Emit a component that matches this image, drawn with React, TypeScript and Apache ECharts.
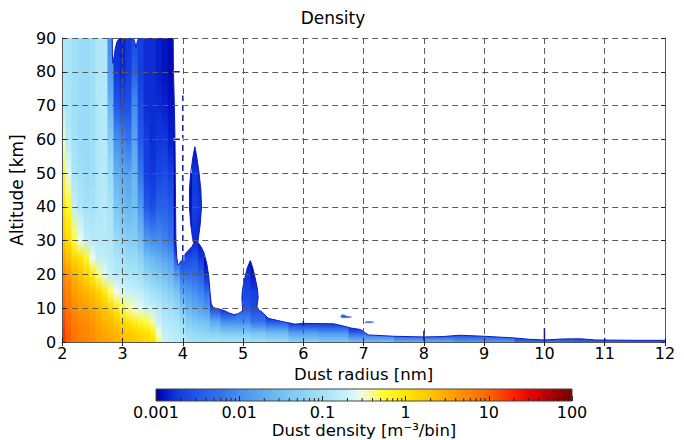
import React, { useEffect, useRef } from 'react';
import * as echarts from 'echarts';

// ---------- data ----------
// Radius nodes (nm) at which the density profiles are read
const radiusNodes = [
  2.0, 2.1, 2.2, 2.3, 2.4, 2.5, 2.6, 2.7, 2.8, 2.9, 3.0, 3.1, 3.2, 3.3, 3.4, 3.5, 3.6, 3.7, 3.8, 3.9,
  4.0, 4.1, 4.2, 4.3, 4.4, 4.5, 4.75, 5.0, 5.25, 5.5, 6.0, 6.5, 7.0, 8.0, 9.0, 10.0, 11.0, 12.0,
];
// Altitude nodes (km)
const altitudeNodes = [0, 3, 6, 10, 15, 20, 25, 30, 40, 50, 60, 70, 80, 90];
// log10 of dust density [m^-3/bin] per radius node, from the ground upwards
const logDensity = [
  [1.25, 1.22, 1.15, 1.05, 0.92, 0.75, 0.52, 0.3, 0.0, -0.2, -0.5, -0.85, -0.9, -0.9],
  [1.05, 1.02, 0.97, 0.88, 0.77, 0.6, 0.35, 0.1, -0.2, -0.6, -0.85, -0.95, -0.95, -0.95],
  [0.88, 0.86, 0.82, 0.72, 0.58, 0.42, 0.15, -0.3, -0.75, -0.95, -1.0, -1.05, -1.05, -1.05],
  [0.8, 0.8, 0.75, 0.62, 0.48, 0.3, 0.05, -0.55, -0.9, -1.05, -1.1, -1.1, -1.1, -1.1],
  [0.75, 0.75, 0.7, 0.58, 0.4, 0.15, -0.2, -0.75, -1.0, -1.1, -1.1, -1.1, -1.1, -1.1],
  [0.7, 0.68, 0.62, 0.5, 0.3, -0.05, -0.55, -0.85, -1.0, -1.05, -1.05, -1.05, -1.05, -1.05],
  [0.6, 0.58, 0.52, 0.4, 0.15, -0.35, -0.75, -0.85, -0.9, -0.9, -0.9, -0.9, -0.9, -0.9],
  [0.55, 0.5, 0.42, 0.28, -0.05, -0.6, -0.8, -0.85, -0.85, -0.85, -0.85, -0.85, -0.9, -0.9],
  [0.5, 0.45, 0.35, 0.15, -0.35, -0.75, -0.85, -0.9, -0.95, -1.1, -1.3, -1.6, -1.9, -2.0],
  [0.45, 0.38, 0.25, -0.05, -0.55, -0.85, -0.95, -1.1, -1.4, -1.65, -2.0, -2.5, -2.75, -2.8],
  [0.4, 0.3, 0.12, -0.25, -0.65, -0.9, -1.0, -1.2, -1.5, -1.75, -2.1, -2.6, -2.8, -2.85],
  [0.32, 0.22, 0.02, -0.4, -0.7, -0.95, -1.1, -1.3, -1.6, -1.8, -2.2, -2.55, -2.7, -2.75],
  [0.27, 0.15, -0.1, -0.5, -0.75, -0.95, -1.1, -1.3, -1.5, -1.6, -1.8, -2.0, -2.4, -2.6],
  [0.22, 0.08, -0.2, -0.6, -0.8, -1.05, -1.25, -1.5, -1.9, -2.2, -2.5, -2.6, -2.7, -2.7],
  [0.17, 0.02, -0.3, -0.7, -0.9, -1.2, -1.5, -1.9, -2.5, -2.7, -2.7, -2.8, -2.8, -2.8],
  [0.08, -0.12, -0.42, -0.75, -1.0, -1.3, -1.6, -2.0, -2.6, -2.75, -2.8, -2.8, -2.8, -2.8],
  [-0.35, -0.5, -0.7, -0.85, -1.1, -1.4, -1.7, -2.0, -2.4, -2.65, -2.75, -2.8, -2.85, -2.85],
  [-0.7, -0.75, -0.85, -1.0, -1.2, -1.5, -1.8, -2.1, -2.4, -2.6, -2.75, -2.85, -2.9, -2.9],
  [-0.75, -0.8, -0.9, -1.05, -1.3, -1.6, -1.9, -2.2, -2.5, -2.7, -2.85, -2.9, -2.95, -2.95],
  [-0.8, -0.85, -0.95, -1.15, -1.45, -1.85, -2.5, -2.9, -3, -3, -3, -3, -3, -3],
  [-0.85, -0.95, -1.1, -1.4, -1.8, -2.2, -2.7, -3, -3],
  [-0.95, -1.1, -1.3, -1.6, -1.9, -2.25, -2.6, -2.9, -2.9, -3],
  [-1.0, -1.15, -1.4, -1.7, -2.0, -2.3, -2.55, -2.8, -2.7, -2.75, -3],
  [-1.0, -1.2, -1.45, -1.8, -2.1, -2.4, -2.75, -2.9, -2.75, -2.85, -3],
  [-1.0, -1.25, -1.5, -1.9, -2.3, -2.8, -3],
  [-0.95, -1.3, -1.7, -2.6, -3],
  [-0.95, -1.4, -2.0, -2.8, -3],
  [-0.95, -1.4, -2.0, -2.5, -2.65, -2.75, -3],
  [-1.0, -1.5, -2.2, -2.6, -2.7, -2.9, -3],
  [-1.05, -1.6, -2.5, -3],
  [-1.2, -1.9, -2.8, -3],
  [-1.3, -2.0, -2.8, -3],
  [-1.4, -2.5, -3],
  [-1.6, -2.8],
  [-1.8, -2.8],
  [-2.2, -2.9],
  [-2.3, -2.9],
  [-2.4, -2.9],
];
// Upper edge of the dust layer (radius nm, altitude km), left to right
const layerOutline = [
  [2.83, 92], [2.83, 90], [2.832, 85], [2.84, 82.5], [2.86, 84.5], [2.88, 87], [2.91, 89], [2.95, 90], [2.96, 92],
  [3.17, 92], [3.18, 90], [3.2, 89], [3.225, 87.2], [3.245, 89], [3.27, 90], [3.28, 92],
  [3.84, 92], [3.84, 90], [3.845, 80], [3.86, 70], [3.87, 60], [3.875, 50], [3.88, 40], [3.885, 30], [3.9, 25],
  [3.92, 22.8], [3.95, 23.3], [4.0, 25], [4.05, 26.3], [4.1, 27.3], [4.15, 28.2], [4.18, 29.2],
  [4.16, 31], [4.13, 35], [4.11, 40], [4.11, 45], [4.13, 50], [4.17, 55], [4.2, 57.8], [4.23, 55], [4.27, 50],
  [4.3, 45], [4.31, 40], [4.29, 35], [4.26, 31], [4.25, 29.5],
  [4.3, 28.3], [4.35, 26.5], [4.4, 23], [4.43, 19.5], [4.45, 15], [4.47, 11.5], [4.5, 10.2], [4.6, 9.8], [4.7, 9.2],
  [4.78, 8.5], [4.85, 8.1], [4.92, 8.4], [4.99, 9.2],
  [4.99, 10.5], [4.98, 13], [4.99, 15.5], [5.03, 19], [5.07, 22], [5.12, 24.1], [5.16, 22], [5.2, 19], [5.24, 15.5],
  [5.25, 13], [5.23, 10.5], [5.26, 9.5], [5.32, 8.8],
  [5.42, 7.0], [5.64, 6.1], [5.86, 5.3], [6.0, 5.5], [6.5, 5.4], [6.65, 4.8], [6.8, 4.1], [6.95, 3.7], [7.02, 2.8],
  [7.08, 2.1], [7.5, 1.7], [8.0, 1.5], [8.3, 1.6], [8.6, 2.0], [9.0, 1.7], [9.5, 1.2], [9.75, 0.8], [10.0, 0.6],
  [10.3, 0.9], [10.6, 0.95], [10.85, 0.6], [11.5, 0.5], [12, 0.5],
];
const maskClosure = [[12.5, 0.5], [12.5, 95], [2.83, 95]];
// Small detached patches
const islandA = [[6.62, 7.5], [6.64, 8.1], [6.68, 8.0], [6.72, 7.6], [6.8, 7.4], [6.72, 7.2], [6.64, 7.2]];
const islandB = [[7.02, 5.9], [7.1, 6.05], [7.17, 5.9], [7.1, 5.7], [7.03, 5.7]];
const islandLogDensity = [-2.3, -2.3];
// Thin dark contour slivers along grid lines [x0, alt0, x1, alt1]
const dashedSlivers = [[4, 24, 4, 73], [3.85, 80, 4.0, 80], [3.85, 60, 4.0, 60]];
const solidSlivers = [[6, 4.8, 6, 6.2], [8, 0.4, 8, 3.3], [10, 0.4, 10, 4.1], [11, 0.4, 11, 1.2]];
// Colour bar ticks
const densityTickExponents = [-3, -2, -1, 0, 1, 2];
const densityTickLabels = ['0.001', '0.01', '0.1', '1', '10', '100'];

// ---------- styles ----------
const colormapStops = [
  [-3.0, '#0000a8'],
  [-2.9, '#0414c4'],
  [-2.75, '#1038dc'],
  [-2.5, '#2258ea'],
  [-2.2, '#3474ee'],
  [-2.0, '#4690f0'],
  [-1.5, '#72c0f2'],
  [-1.0, '#a4e2f8'],
  [-0.7, '#c8f2fa'],
  [-0.55, '#ecfcee'],
  [-0.42, '#f8fba0'],
  [-0.3, '#ffff40'],
  [0.0, '#ffe600'],
  [0.3, '#ffc400'],
  [0.5, '#ffa800'],
  [0.7, '#ff8c00'],
  [1.0, '#ff6400'],
  [1.3, '#ff2000'],
  [1.5, '#e80000'],
  [1.7, '#b80000'],
  [2.0, '#780000'],
];
const FONT = 'DejaVu Sans';
const EDGE = '#0b1fc0';

function hexToRgb(h: string) {
  const n = parseInt(h.slice(1), 16);
  return [(n >> 16) & 255, (n >> 8) & 255, n & 255];
}
const stopRgb = colormapStops.map(([v, c]) => [v as number, hexToRgb(c as string)] as [number, number[]]);
function colorOf(v: number) {
  const fmt = (c: number[]) => `rgb(${Math.round(c[0])},${Math.round(c[1])},${Math.round(c[2])})`;
  if (v <= stopRgb[0][0]) return fmt(stopRgb[0][1]);
  for (let i = 1; i < stopRgb.length; i++) {
    if (v <= stopRgb[i][0]) {
      const [va, ca] = stopRgb[i - 1];
      const [vb, cb] = stopRgb[i];
      const t = (v - va) / (vb - va);
      return fmt([0, 1, 2].map((k) => ca[k] + (cb[k] - ca[k]) * t));
    }
  }
  return fmt(stopRgb[stopRgb.length - 1][1]);
}

function buildCells() {
  const cells: number[][] = [];
  radiusNodes.forEach((x, i) => {
    const x0 = i === 0 ? x : (radiusNodes[i - 1] + x) / 2;
    const x1 = i === radiusNodes.length - 1 ? x : (x + radiusNodes[i + 1]) / 2;
    const prof = logDensity[i];
    for (let j = 0; j < prof.length - 1; j++) {
      cells.push([x0, x1, altitudeNodes[j], altitudeNodes[j + 1], prof[j], prof[j + 1]]);
    }
  });
  return cells;
}

export default function App() {
  const ref = useRef<HTMLDivElement>(null);
  useEffect(() => {
    document.body.style.margin = '0';
    if (!ref.current) return;
    const chart = echarts.init(ref.current, null, { renderer: 'svg' });
    const cells = buildCells();
    const minorTicks: number[][] = [];
    for (let e = -3; e < 2; e++) for (let k = 2; k <= 9; k++) minorTicks.push([e + Math.log10(k)]);

    const axisBase = {
      type: 'value',
      axisLine: { show: true, lineStyle: { color: '#555', width: 1 } },
      axisTick: { show: true, inside: true, length: 4, lineStyle: { color: '#222' } },
      z: 10,
    };
    const labelStyle = { fontFamily: FONT, fontSize: 16, color: '#000' };

    const option = {
      animation: false,
      textStyle: { fontFamily: FONT },
      graphic: [
        {
          type: 'text',
          x: 333,
          y: 18,
          style: { text: 'Density', fontFamily: FONT, fontSize: 17, fill: '#000', align: 'center', verticalAlign: 'middle' },
        },
      ],
      grid: [
        { left: 60, top: 38, width: 605, height: 304 },
        { left: 156, top: 389, width: 416, height: 15 },
      ],
      xAxis: [
        {
          ...axisBase,
          gridIndex: 0,
          position: 'bottom',
          min: 2,
          max: 12,
          interval: 1,
          axisLabel: { ...labelStyle, margin: 3 },
          splitLine: { show: true, lineStyle: { color: '#5a5a5a', type: [6, 4], width: 1 } },
          name: 'Dust radius [nm]',
          nameLocation: 'middle',
          nameGap: 20,
          nameTextStyle: { ...labelStyle, fontSize: 16.5 },
        },
        {
          ...axisBase,
          gridIndex: 0,
          position: 'top',
          min: 2,
          max: 12,
          interval: 1,
          axisLabel: { show: false },
          splitLine: { show: false },
        },
        {
          type: 'value',
          gridIndex: 1,
          position: 'bottom',
          min: -3,
          max: 2,
          interval: 1,
          axisLine: { show: false },
          axisTick: { show: true, inside: true, length: 5, lineStyle: { color: '#222' } },
          axisLabel: {
            ...labelStyle,
            margin: 3,
            formatter: (v: number) => densityTickLabels[densityTickExponents.indexOf(Math.round(v))],
          },
          splitLine: { show: false },
          name: 'Dust density [m⁻³/bin]',
          nameLocation: 'middle',
          nameGap: 21,
          nameTextStyle: { ...labelStyle, fontSize: 16.5 },
          z: 10,
        },
      ],
      yAxis: [
        {
          ...axisBase,
          gridIndex: 0,
          position: 'left',
          min: 0,
          max: 90,
          interval: 10,
          axisLabel: { ...labelStyle, margin: 6 },
          splitLine: { show: true, lineStyle: { color: '#5a5a5a', type: [6, 4], width: 1 } },
          name: 'Altitude [km]',
          nameLocation: 'middle',
          nameGap: 32,
          nameTextStyle: { ...labelStyle, fontSize: 17 },
        },
        {
          ...axisBase,
          gridIndex: 0,
          position: 'right',
          min: 0,
          max: 90,
          interval: 10,
          axisLabel: { show: false },
          splitLine: { show: false },
        },
        { type: 'value', gridIndex: 1, min: 0, max: 1, show: false },
      ],
      series: [
        {
          type: 'custom',
          name: 'density',
          xAxisIndex: 0,
          yAxisIndex: 0,
          clip: true,
          z: 1,
          data: cells,
          renderItem: (_p: any, api: any) => {
            const tl = api.coord([api.value(0), api.value(3)]);
            const br = api.coord([api.value(1), api.value(2)]);
            return {
              type: 'rect',
              shape: { x: tl[0], y: tl[1], width: br[0] - tl[0] + 0.6, height: br[1] - tl[1] + 0.6 },
              style: {
                fill: new echarts.graphic.LinearGradient(0, 0, 0, 1, [
                  { offset: 0, color: colorOf(api.value(5)) },
                  { offset: 1, color: colorOf(api.value(4)) },
                ]),
              },
            };
          },
        },
        {
          type: 'custom',
          name: 'mask',
          xAxisIndex: 0,
          yAxisIndex: 0,
          clip: true,
          z: 2,
          data: [[0, 0]],
          renderItem: (_p: any, api: any) => ({
            type: 'polygon',
            shape: { points: [...layerOutline, ...maskClosure].map((p) => api.coord(p)) },
            style: { fill: '#ffffff', stroke: EDGE, lineWidth: 1 },
          }),
        },
        {
          type: 'custom',
          name: 'islands',
          xAxisIndex: 0,
          yAxisIndex: 0,
          clip: true,
          z: 3,
          data: [[0], [1]],
          renderItem: (p: any, api: any) => {
            const pts = p.dataIndex === 0 ? islandA : islandB;
            return {
              type: 'polygon',
              shape: { points: pts.map((q) => api.coord(q)) },
              style: { fill: colorOf(islandLogDensity[p.dataIndex]), stroke: '#3050e0', lineWidth: 0.5 },
            };
          },
        },
        {
          type: 'custom',
          name: 'slivers',
          xAxisIndex: 0,
          yAxisIndex: 0,
          clip: true,
          z: 12,
          data: [...dashedSlivers.map((s) => [...s, 1]), ...solidSlivers.map((s) => [...s, 0])],
          renderItem: (_p: any, api: any) => {
            const a = api.coord([api.value(0), api.value(1)]);
            const b = api.coord([api.value(2), api.value(3)]);
            const dashed = api.value(4) === 1;
            const shape = { x1: a[0], y1: a[1], x2: b[0], y2: b[1] };
            return {
              type: 'group',
              children: [
                ...(dashed ? [{ type: 'line', shape, style: { stroke: '#ffffff', lineWidth: 3 } }] : []),
                {
                  type: 'line',
                  shape,
                  style: { stroke: '#101c9e', lineWidth: 1.5, lineDash: dashed ? [6, 4] : null },
                },
              ],
            };
          },
        },
        {
          type: 'custom',
          name: 'colorbar',
          xAxisIndex: 2,
          yAxisIndex: 2,
          z: 2,
          data: [[0]],
          renderItem: (_p: any, api: any) => {
            const tl = api.coord([-3, 1]);
            const br = api.coord([2, 0]);
            return {
              type: 'rect',
              shape: { x: tl[0], y: tl[1], width: br[0] - tl[0], height: br[1] - tl[1] },
              style: {
                fill: new echarts.graphic.LinearGradient(
                  0,
                  0,
                  1,
                  0,
                  colormapStops.map(([v, c]) => ({ offset: ((v as number) + 3) / 5, color: c as string }))
                ),
                stroke: '#444',
                lineWidth: 1,
              },
            };
          },
        },
        {
          type: 'custom',
          name: 'colorbarMinorTicks',
          xAxisIndex: 2,
          yAxisIndex: 2,
          z: 11,
          data: minorTicks,
          renderItem: (_p: any, api: any) => {
            const p = api.coord([api.value(0), 0]);
            return {
              type: 'line',
              shape: { x1: p[0], y1: p[1], x2: p[0], y2: p[1] - 3 },
              style: { stroke: '#222', lineWidth: 1 },
            };
          },
        },
      ],
    };
    chart.setOption(option as any);
    return () => chart.dispose();
  }, []);
  return <div ref={ref} style={{ width: 684, height: 440 }} />;
}
